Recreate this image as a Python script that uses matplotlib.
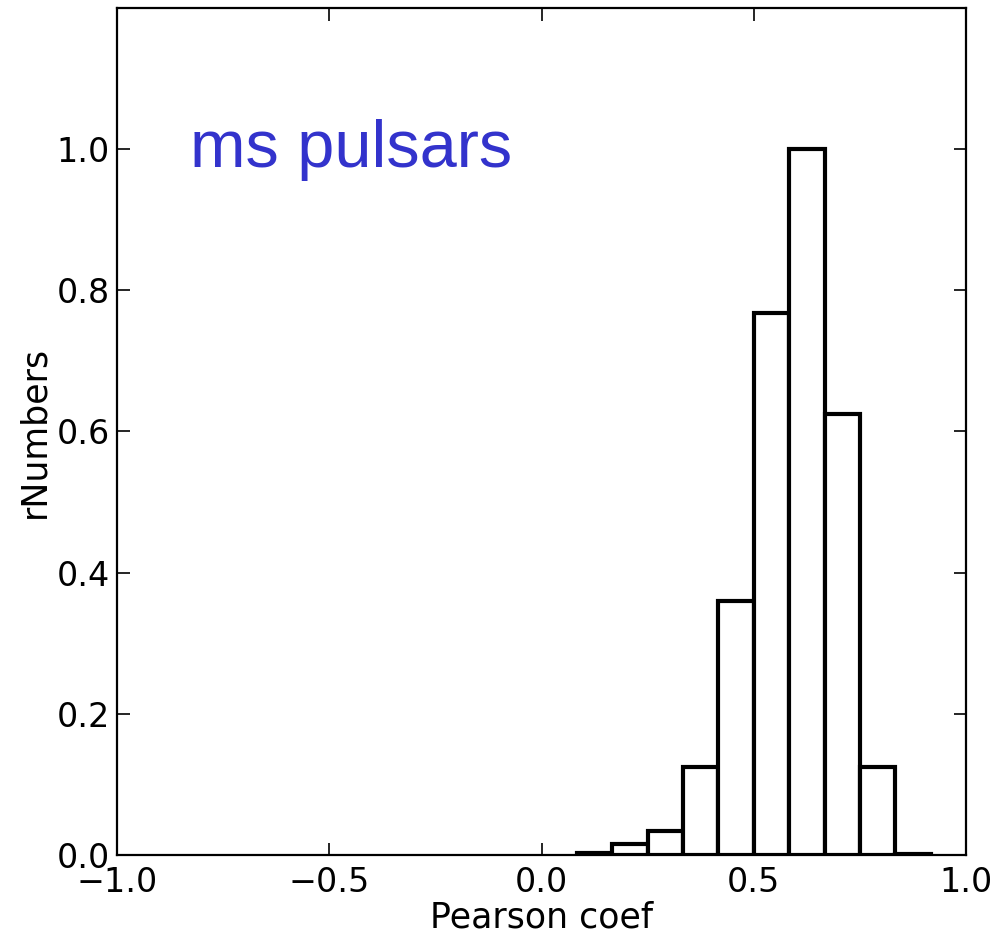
import numpy as np
import matplotlib
matplotlib.use("Agg")
import matplotlib.pyplot as plt

# Histogram data (bins of width 1/12 from -1 to 1)
bin_edges = np.linspace(-1.0, 1.0, 25)
heights = [0, 0, 0, 0, 0, 0, 0, 0, 0, 0, 0, 0, 0,
           0.003, 0.015, 0.034, 0.125, 0.36, 0.768, 1.0, 0.625, 0.125, 0.002, 0]
xticks = [-1.0, -0.5, 0.0, 0.5, 1.0]
yticks = [0.0, 0.2, 0.4, 0.6, 0.8, 1.0]
xlabel = "Pearson coef"
ylabel = "rNumbers"
annotation = "ms pulsars"

fig = plt.figure(figsize=(10.01, 9.41), dpi=100)
ax = fig.add_axes([0.1169, 0.0914, 0.8482, 0.9001])

centers = (bin_edges[:-1] + bin_edges[1:]) / 2
widths = np.diff(bin_edges)
h = np.array(heights)
mask = h > 0
ax.bar(centers[mask], h[mask], width=widths[mask], facecolor="white",
       edgecolor="black", linewidth=3.0, align="center")

ax.set_xlim(-1.0, 1.0)
ax.set_ylim(0.0, 1.2)
ax.set_xticks(xticks)
ax.set_yticks(yticks)
ax.set_xticklabels(["\u22121.0", "\u22120.5", "0.0", "0.5", "1.0"])
ax.set_yticklabels(["0.0", "0.2", "0.4", "0.6", "0.8", "1.0"])
ax.tick_params(direction="in", length=9, width=1.2, top=True, right=True,
               labelsize=24)
ax.tick_params(axis="x", pad=8)
ax.tick_params(axis="y", pad=5)
for s in ax.spines.values():
    s.set_linewidth(1.6)
ax.set_xlabel(xlabel, fontsize=25, labelpad=1)
ax.set_ylabel(ylabel, fontsize=25, labelpad=4)

ax.text(0.086, 0.812, annotation, transform=ax.transAxes, fontsize=48,
        color="#3333cc", family="Liberation Sans", va="baseline", ha="left")

fig.savefig("out.png", dpi=100)
